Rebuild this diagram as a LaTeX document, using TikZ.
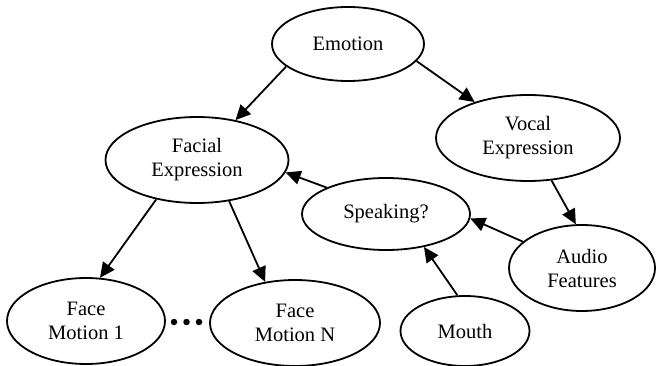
\documentclass[tikz,border=0pt]{standalone}
\usepackage{fontspec}
\setmainfont{Liberation Serif}
\usetikzlibrary{arrows.meta,shapes.geometric}
\begin{document}
\begin{tikzpicture}[x=1pt,y=-1pt,
  ell/.style={ellipse,draw,line width=1.8pt,inner sep=0pt,align=center,
    font=\fontsize{20.5}{24}\selectfont},
  arr/.style={line width=1.8pt,-{Triangle[length=15pt,width=14pt]}},
  dot/.style={circle,fill,inner sep=0pt,minimum size=6.5pt}]
\useasboundingbox (0,0) rectangle (656,366);
\node[ell,minimum width=152pt,minimum height=74pt] (emo) at (348,44) {Emotion};
\node[ell,minimum width=183pt,minimum height=86pt] (fac) at (197,160) {Facial\\Expression};
\node[ell,minimum width=184pt,minimum height=86pt] (voc) at (528,138) {Vocal\\Expression};
\node[ell,minimum width=168pt,minimum height=72pt] (spk) at (386,214) {Speaking?};
\node[ell,minimum width=146pt,minimum height=86pt] (aud) at (582,268) {Audio\\Features};
\node[ell,minimum width=158pt,minimum height=86pt] (fm1) at (86,321) {Face\\Motion 1};
\node[ell,minimum width=170pt,minimum height=86pt] (fmn) at (295,323) {Face\\Motion N};
\node[ell,minimum width=129pt,minimum height=70pt] (mou) at (465,331) {Mouth};
\node[dot] (d1) at (174,322) {};
\node[dot] (d2) at (186.5,322) {};
\node[dot] (d3) at (199,322) {};
\draw[arr] (emo.200) -- (fac.46);
\draw[arr] (emo.-14) -- (voc.146);
\draw[arr] (voc.-61) -- (aud.98);
\draw[arr] (aud.156) -- (spk.-3);
\draw[arr] (mou.102) -- (spk.-41);
\draw[arr] (spk.156) -- (fac.-8);
\draw[arr] (fac.224) -- (fm1.72);
\draw[arr] (fac.-52) -- (fmn.126);
\end{tikzpicture}
\end{document}
